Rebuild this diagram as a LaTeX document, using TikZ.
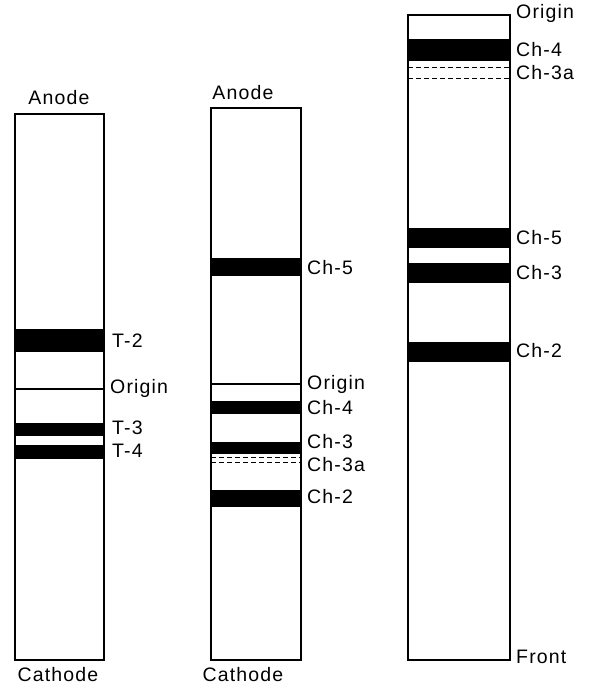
\documentclass[tikz,border=0pt]{standalone}
\usepackage{fontspec}
\newfontfamily\stripfont[LetterSpace=6]{Liberation Sans}
\usepackage{tikz}
\usetikzlibrary{positioning}
\tikzset
{
  strip/.style={draw,line width=1.2pt},
  band/.style={fill=black},
  thinline/.style={draw,line width=1.2pt},
  dashline/.style={draw,dashed,line width=1pt,dash pattern=on 5pt off 3pt},
  tag/.style={font=\stripfont\fontsize{19.5}{22}\selectfont,anchor=west,inner sep=0pt},
  endtag/.style={font=\stripfont\fontsize{19.5}{22}\selectfont,inner sep=0pt}
}

\begin{document}
\begin{tikzpicture}[x=1pt,y=-1pt]
        \useasboundingbox (0,0) rectangle (597,686);

        % Strip 1
        \draw[strip] (15,114) rectangle (104,660);
        \node[endtag] (anodeA) at (59,98) {Anode};
        \node[endtag] (cathodeA) at (58,675) {Cathode};
        \fill[band] (15,329) rectangle (104,352);
        \draw[thinline] (15,389) -- (104,389);
        \fill[band] (15,423) rectangle (104,436);
        \fill[band] (15,445) rectangle (104,459);
        \node[tag] (tTwo) at (112,341) {T-2};
        \node[tag] (originA) at (110,388) {Origin};
        \node[tag] (tThree) at (112,428) {T-3};
        \node[tag] (tFour) at (112,451) {T-4};

        % Strip 2
        \draw[strip] (211,108) rectangle (301,660);
        \node[endtag] (anodeB) at (243,93) {Anode};
        \node[endtag] (cathodeB) at (243,675) {Cathode};
        \fill[band] (211,258) rectangle (301,276);
        \draw[thinline] (211,384) -- (301,384);
        \fill[band] (211,401) rectangle (301,414);
        \fill[band] (211,442) rectangle (301,454);
        \draw[dashline] (211,457) -- (301,457);
        \draw[dashline] (211,462) -- (301,462);
        \fill[band] (211,490) rectangle (301,507);
        \node[tag] (chFiveB) at (307,268) {Ch-5};
        \node[tag] (originB) at (307,384) {Origin};
        \node[tag] (chFourB) at (307,408) {Ch-4};
        \node[tag] (chThreeB) at (307,442) {Ch-3};
        \node[tag] (chThreeaB) at (307,465) {Ch-3a};
        \node[tag] (chTwoB) at (307,497) {Ch-2};

        % Strip 3
        \draw[strip] (408,15) rectangle (510,660);
        \fill[band] (408,39) rectangle (510,61);
        \draw[dashline] (408,67) -- (510,67);
        \draw[dashline] (408,78) -- (510,78);
        \fill[band] (408,228) rectangle (510,248);
        \fill[band] (408,263) rectangle (510,283);
        \fill[band] (408,342) rectangle (510,362);
        \node[tag] (originC) at (516,13) {Origin};
        \node[tag] (chFourC) at (516,50) {Ch-4};
        \node[tag] (chThreeaC) at (516,73) {Ch-3a};
        \node[tag] (chFiveC) at (516,238) {Ch-5};
        \node[tag] (chThreeC) at (516,273) {Ch-3};
        \node[tag] (chTwoC) at (516,351) {Ch-2};
        \node[tag] (frontC) at (516,657) {Front};
\end{tikzpicture}
\end{document}
